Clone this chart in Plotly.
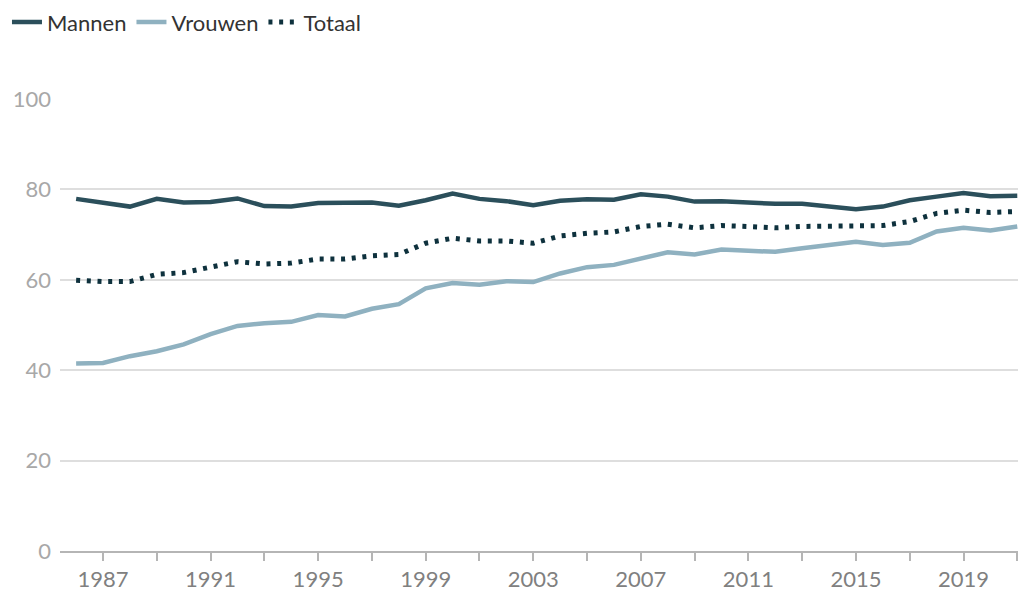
import plotly.graph_objects as go

years = list(range(1986, 2022))
mannen = [77.9, 77.1, 76.2, 77.9, 77.1, 77.2, 78.0, 76.3, 76.2, 77.0, 77.1, 77.1,
          76.4, 77.6, 79.1, 77.9, 77.4, 76.5, 77.5, 77.8, 77.7, 78.9, 78.4, 77.3,
          77.4, 77.1, 76.8, 76.8, 76.2, 75.6, 76.2, 77.6, 78.4, 79.2, 78.5, 78.6]
vrouwen = [41.5, 41.6, 43.1, 44.2, 45.7, 48.0, 49.8, 50.4, 50.7, 52.2, 51.9, 53.6,
           54.6, 58.1, 59.3, 58.9, 59.7, 59.5, 61.4, 62.8, 63.3, 64.8, 66.1, 65.6,
           66.7, 66.4, 66.2, 67.0, 67.8, 68.4, 67.7, 68.2, 70.7, 71.5, 70.9, 71.8]
totaal = [59.9, 59.6, 59.6, 61.2, 61.6, 62.8, 64.0, 63.5, 63.7, 64.6, 64.6, 65.3,
          65.6, 68.1, 69.2, 68.6, 68.6, 68.1, 69.7, 70.3, 70.6, 71.8, 72.3, 71.5,
          72.0, 71.8, 71.5, 71.8, 71.8, 71.9, 72.0, 72.9, 74.7, 75.4, 74.9, 75.1]
tick_years = list(range(1987, 2022, 4))
y_ticks = [0, 20, 40, 60, 80, 100]

fig = go.Figure()
fig.add_trace(go.Scatter(x=years, y=mannen, name="Mannen", mode="lines",
                         line=dict(color="#2b4f5b", width=4.5)))
fig.add_trace(go.Scatter(x=years, y=vrouwen, name="Vrouwen", mode="lines",
                         line=dict(color="#8fb1c0", width=4.5)))
fig.add_trace(go.Scatter(x=years, y=totaal, name="Totaal", mode="lines",
                         line=dict(color="#0e313d", width=5, dash="4px,6.7px")))

# the page body adds an 8px offset; figure is sized to fit the window
fig.update_layout(
    width=1018, height=583,
    margin=dict(l=52, r=2, t=91, b=40, autoexpand=False),
    plot_bgcolor="white", paper_bgcolor="white",
    font=dict(family="Lato", size=22, color="#8a8a8a"),
    showlegend=True,
    legend=dict(orientation="h", x=-0.055, xanchor="left", y=1.17, yanchor="middle",
                font=dict(color="#333333", size=22), itemwidth=30,
                traceorder="normal"),
    xaxis=dict(range=[1985.4, 2021.25], tickmode="array",
               tickvals=list(range(1987, 2022, 2)),
               ticktext=[str(y) if y in tick_years else "" for y in range(1987, 2022, 2)],
               showgrid=False, showline=True, linecolor="#b5b5b5", linewidth=1.5,
               ticks="outside", ticklen=8, tickcolor="#b5b5b5", tickwidth=1.5,
               zeroline=False, tickfont=dict(color="#808080", size=22)),
    yaxis=dict(range=[0, 100], tickvals=y_ticks, showgrid=True, gridcolor="#dedede",
               gridwidth=1.5, zeroline=False, showline=False, ticks="",
               tickfont=dict(color="#a8a8a8", size=22), ticklabelstandoff=8),
)

fig.write_html("out.html")
